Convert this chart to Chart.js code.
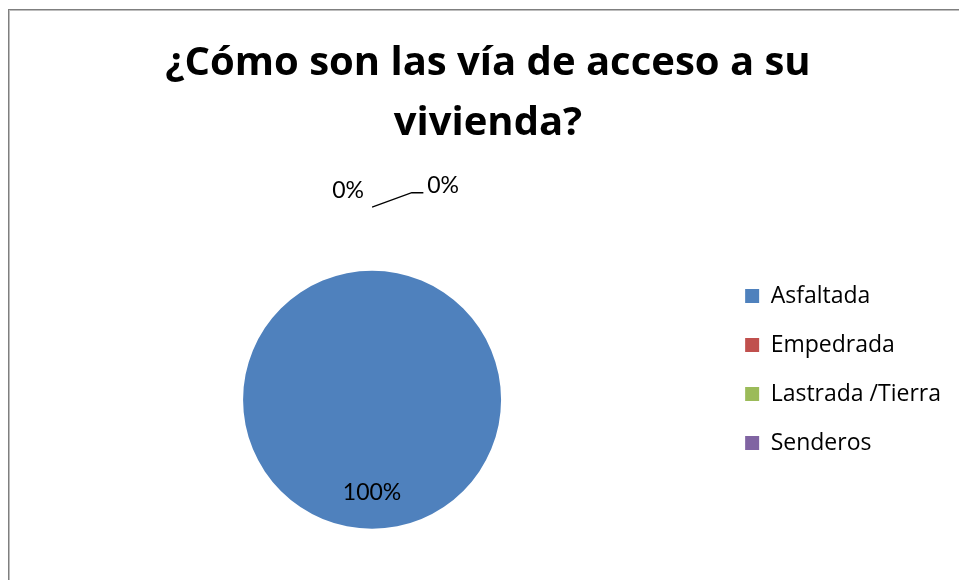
<!DOCTYPE html>
<html>
<head>
<meta charset="utf-8">
<script src="https://cdn.jsdelivr.net/npm/chart.js@4/dist/chart.umd.min.js"></script>
<style>
  html, body { margin: 0; padding: 0; background: #fff; overflow: hidden; }
  #frame {
    position: absolute; left: 8px; top: 9px; width: 1000px; height: 700px;
    border-left: 1px solid #7f7f7f; border-top: 1px solid #7f7f7f;
    box-shadow: inset 1px 1px 0 #bdbdbd;
  }
  #chart { position: absolute; left: 8px; top: 9px; }
</style>
</head>
<body>
<div id="frame"></div>
<canvas id="chart" width="960" height="571"></canvas>
<script>
const categories = ['Asfaltada', 'Empedrada', 'Lastrada /Tierra', 'Senderos'];
const shares = [100, 0, 0, 0];
const sliceColors = ['#4F81BD', '#C0504D', '#9BBB59', '#8064A2'];
const titleLines = ['¿Cómo son las vía de acceso a su', 'vivienda?'];

// where the labels of empty slices go, measured from the point where the slice sits on the rim
const outsideSlots = {
    1: { dx: -24, dy: -80 },
    2: { dx: 71, dy: -85, leader: [[0, -63.6], [39.7, -78], [51.3, -78]] }
};
const LEGEND_LEFT = 711;

const pieLabels = {
    id: 'pieLabels',
    afterDatasetsDraw(chart) {
        const ctx = chart.ctx;
        const meta = chart.getDatasetMeta(0);
        const total = shares.reduce((a, b) => a + b, 0);
        ctx.save();
        ctx.font = '23px Lato';
        ctx.fillStyle = '#000';
        ctx.strokeStyle = '#000';
        ctx.lineWidth = 1.3;
        ctx.textAlign = 'center';
        ctx.textBaseline = 'middle';
        meta.data.forEach((arc, i) => {
            const text = Math.round(shares[i] / total * 100) + '%';
            const { x, y, startAngle, endAngle, outerRadius } =
                arc.getProps(['x', 'y', 'startAngle', 'endAngle', 'outerRadius'], true);
            if (shares[i] > 0) {
                const mid = (startAngle + endAngle) / 2;
                ctx.fillText(text, x + Math.cos(mid) * outerRadius * 0.72, y + Math.sin(mid) * outerRadius * 0.72);
                return;
            }
            const slot = outsideSlots[i];
            if (!slot) return;
            const ex = x + Math.cos(startAngle) * outerRadius;
            const ey = y + Math.sin(startAngle) * outerRadius;
            if (slot.leader) {
                ctx.beginPath();
                slot.leader.forEach((p, k) => {
                    if (k === 0) ctx.moveTo(ex + p[0], ey + p[1]);
                    else ctx.lineTo(ex + p[0], ey + p[1]);
                });
                ctx.stroke();
            }
            ctx.fillText(text, ex + slot.dx, ey + slot.dy);
        });
        ctx.restore();
    }
};

const chart = new Chart(document.getElementById('chart'), {
    type: 'pie',
    data: {
        labels: categories,
        datasets: [{
            data: shares,
            backgroundColor: sliceColors,
            borderWidth: 0
        }]
    },
    options: {
        responsive: false,
        animation: false,
        events: [],
        radius: 129,
        layout: { padding: { left: 17, right: 17, top: 0, bottom: 39 } },
        plugins: {
            title: {
                display: true,
                text: titleLines,
                color: '#000',
                font: { family: 'Open Sans', size: 40, weight: 'bold', lineHeight: 60 / 40 },
                padding: { top: 24.5, bottom: 105 }
            },
            legend: {
                position: 'right',
                align: 'start',
                fullSize: false,
                labels: {
                    boxWidth: 14,
                    boxHeight: 14,
                    padding: 26,
                    color: '#000',
                    font: { family: 'Open Sans', size: 23 }
                }
            },
            tooltip: { enabled: false }
        }
    },
    plugins: [pieLabels]
});

// keep the legend column at a fixed x whatever the label widths come out as
const shift = chart.legend.left - LEGEND_LEFT;
if (Math.abs(shift) > 0.5) {
    chart.options.layout.padding.right += shift;
    chart.update();
}
</script>
</body>
</html>
